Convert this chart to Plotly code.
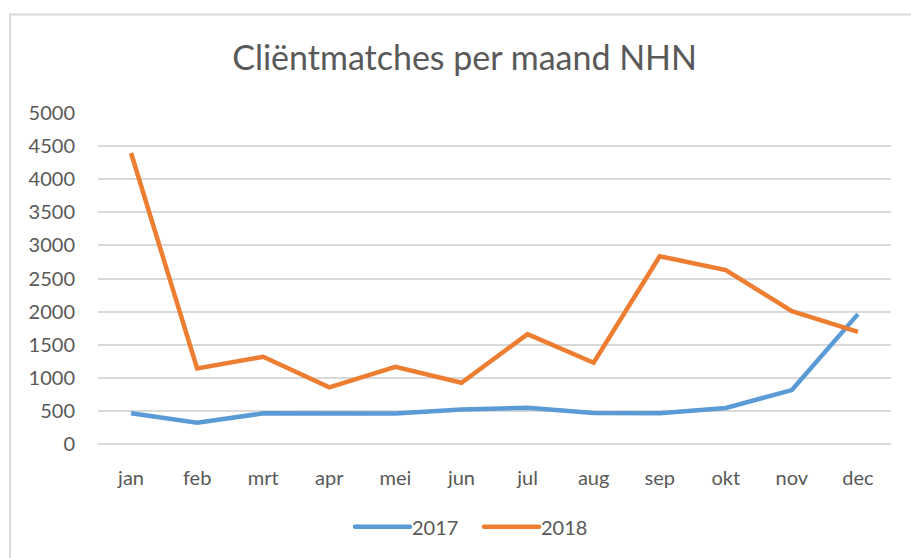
import plotly.graph_objects as go

months = ["jan", "feb", "mrt", "apr", "mei", "jun", "jul", "aug", "sep", "okt", "nov", "dec"]
values_2017 = [463, 322, 463, 463, 460, 523, 548, 468, 463, 545, 815, 1962]
values_2018 = [4396, 1142, 1318, 855, 1167, 925, 1660, 1227, 2837, 2626, 2007, 1695]
y_ticks = [0, 500, 1000, 1500, 2000, 2500, 3000, 3500, 4000, 4500, 5000]

FONT = "Lato"
GREY = "#595959"

fig = go.Figure()
fig.add_trace(go.Scatter(x=months, y=values_2017, name="2017", mode="lines",
                         line=dict(color="#5B9BD5", width=4.5)))
fig.add_trace(go.Scatter(x=months, y=values_2018, name="2018", mode="lines",
                         line=dict(color="#ED7D31", width=4.5)))

fig.update_layout(
    width=911, height=558,
    margin=dict(l=98, r=20, t=113, b=114),
    paper_bgcolor="white", plot_bgcolor="white",
    font=dict(family=FONT, color=GREY, size=20),
    title=dict(text="Cliëntmatches per maand NHN", x=0.51, xanchor="center",
               y=1 - 58 / 558, yanchor="middle", font=dict(size=34, color=GREY, family=FONT)),
    showlegend=True,
    legend=dict(orientation="h", x=0.483, xanchor="center", y=-0.25, yanchor="middle",
                font=dict(size=20, color=GREY), itemwidth=50,
                entrywidth=64, entrywidthmode="pixels"),
    shapes=[dict(type="rect", xref="paper", yref="paper", x0=-88 / 793, x1=850 / 793,
                 y0=-200 / 331.3, y1=(444 - 14) / 331.3,
                 line=dict(color="#D9D9D9", width=2), fillcolor="rgba(0,0,0,0)", layer="below")],
)
fig.update_xaxes(range=[-0.5, 11.5], showgrid=False, showline=False, ticks="",
                 ticklabelstandoff=20, tickfont=dict(size=20, color=GREY))
fig.update_yaxes(range=[0, 5000], tickvals=y_ticks, showgrid=True, gridcolor="#D9D9D9",
                 gridwidth=1.5, zeroline=True, zerolinecolor="#D9D9D9", zerolinewidth=1.5,
                 showline=False, ticks="", ticklabelstandoff=22, tickfont=dict(size=20, color=GREY))

post = """
document.body.style.margin='0';
document.querySelectorAll('.legend .legendlines path').forEach(function(p){
  p.setAttribute('d','M3,0h55'); p.style.strokeLinecap='round';
});
"""
fig.write_html("out.html", config={"displayModeBar": False}, post_script=post)
